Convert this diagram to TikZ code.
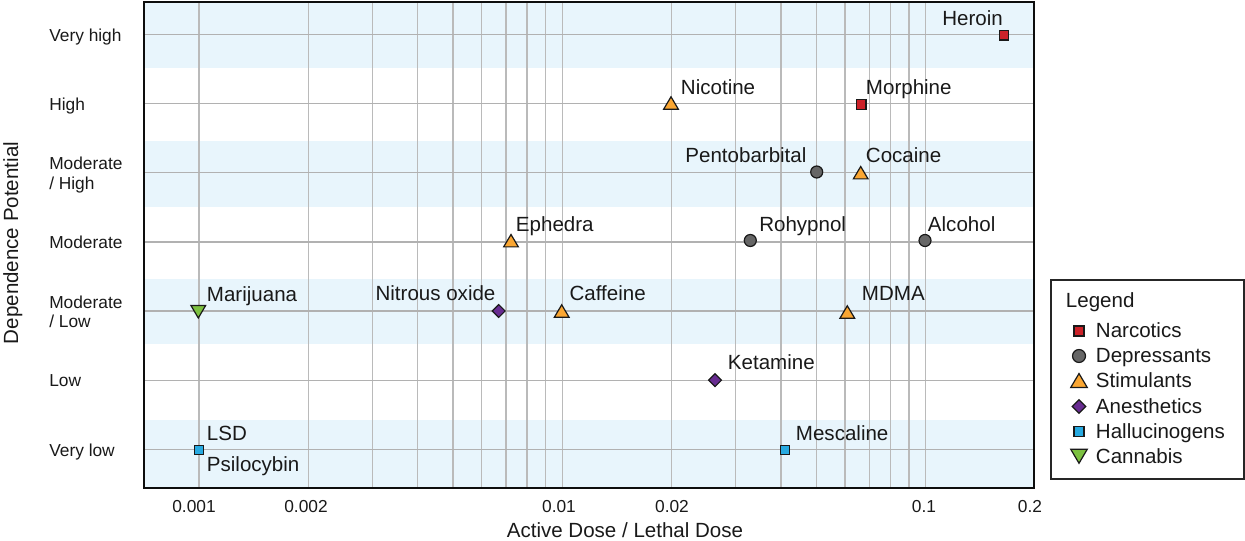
\documentclass[tikz,border=0pt]{standalone}
\usepackage{fontspec}
\setmainfont{Liberation Sans}
\definecolor{band}{RGB}{232,245,252}
\definecolor{gridc}{RGB}{186,186,186}
\definecolor{narc}{RGB}{204,34,41}
\definecolor{depr}{RGB}{102,102,102}
\definecolor{stim}{RGB}{250,166,50}
\definecolor{anes}{RGB}{104,44,145}
\definecolor{hall}{RGB}{39,170,225}
\definecolor{cann}{RGB}{124,193,64}
\tikzset{
  mk/.style={draw=black!90, line width=0.9pt, line join=miter},
  narcotic/.pic={\path[mk,fill=narc] (-4.75,-4.75) rectangle (4.75,4.75);},
  depressant/.pic={\path[mk,fill=depr] (0,0) circle[radius=6];},
  stimulant/.pic={\path[mk,fill=stim] (-7.35,6.2) -- (7.35,6.2) -- (0,-6.2) -- cycle;},
  anesthetic/.pic={\path[mk,fill=anes] (0,-6.4) -- (6.4,0) -- (0,6.4) -- (-6.4,0) -- cycle;},
  hallucinogen/.pic={\path[mk,fill=hall] (-4.75,-4.75) rectangle (4.75,4.75);},
  cannabis/.pic={\path[mk,fill=cann] (-7.35,-6) -- (7.35,-6) -- (0,6.5) -- cycle;},
  lab/.style={font=\fontsize{15.4}{18}\selectfont, inner sep=0pt, text=black!90},
  tick/.style={font=\fontsize{13}{15.6}\selectfont, inner sep=0pt, text=black!90},
  gridline/.style={draw=gridc, line width=0.95pt},
}
\begin{document}
\begin{tikzpicture}[x=0.75pt,y=-0.75pt]
\useasboundingbox (0,0) rectangle (1245,541);
% bands
\fill[band] (144,2) rectangle (1034,68.3);
\fill[band] (144,141) rectangle (1034,206.7);
\fill[band] (144,279) rectangle (1034,344.3);
\fill[band] (144,420) rectangle (1034,488);
% vertical grid
\foreach \d in {0,1} {
  \foreach \k in {1,...,9} {
    \pgfmathsetmacro\gx{199+363.3*(\d+ln(\k)/2.302585)}
    \draw[gridline] (\gx,2) -- (\gx,488);
  }
}
\draw[gridline] (925.6,2) -- (925.6,488);
% horizontal grid
\foreach \r in {34.5,103.6,172.8,241.9,311.0,380.2,449.3} {
  \draw[gridline, draw=gridc!95!black] (144,\r) -- (1034,\r);
}
% frame
\draw[line width=2.2pt, draw=black!95] (144,2) rectangle (1034,488);
% y tick labels
\node[tick, anchor=base west] (yt7) at (49,41.8) {Very high};
\node[tick, anchor=base west] (yt6) at (49,111) {High};
\node[tick, anchor=base west] (yt5a) at (49,170) {Moderate};
\node[tick, anchor=base west] (yt5b) at (49,189.3) {/ High};
\node[tick, anchor=base west] (yt4) at (49,248.5) {Moderate};
\node[tick, anchor=base west] (yt3a) at (49,308.5) {Moderate};
\node[tick, anchor=base west] (yt3b) at (49,328) {/ Low};
\node[tick, anchor=base west] (yt2) at (49,387) {Low};
\node[tick, anchor=base west] (yt1) at (49,456.5) {Very low};
% x tick labels
\node[tick, anchor=base] (xt1) at (194,512.8) {0.001};
\node[tick, anchor=base] (xt2) at (306,512.8) {0.002};
\node[tick, anchor=base] (xt3) at (559,512.8) {0.01};
\node[tick, anchor=base] (xt4) at (672,512.8) {0.02};
\node[tick, anchor=base] (xt5) at (924,512.8) {0.1};
\node[tick, anchor=base] (xt6) at (1030,512.8) {0.2};
% axis titles
\node[lab, anchor=base] (xtitle) at (625,537.5) {Active Dose / Lethal Dose};
\node[lab, anchor=base, rotate=90] (ytitle) at (18,243) {Dependence Potential};
% data markers
\pic (heroin) at (1004,35.3) {narcotic};
\pic (morphine) at (861.3,104.5) {narcotic};
\pic (nicotine) at (671,103) {stimulant};
\pic (pentobarbital) at (816.7,172) {depressant};
\pic (cocaine) at (860.7,172.7) {stimulant};
\pic (ephedra) at (511,240.7) {stimulant};
\pic (rohypnol) at (750.3,240.5) {depressant};
\pic (alcohol) at (925,240.5) {depressant};
\pic (marijuana) at (198.3,311.5) {cannabis};
\pic (nitrous) at (498.7,311) {anesthetic};
\pic (caffeine) at (561.7,311) {stimulant};
\pic (mdma) at (847.3,312) {stimulant};
\pic (ketamine) at (715,380.2) {anesthetic};
\pic (lsd) at (199,450) {hallucinogen};
\pic (mescaline) at (785,450) {hallucinogen};
% data labels
\node[lab, anchor=base east] (lHeroin) at (1003,26) {Heroin};
\node[lab, anchor=base west] (lNicotine) at (680.7,95) {Nicotine};
\node[lab, anchor=base west] (lMorphine) at (865.7,95) {Morphine};
\node[lab, anchor=base east] (lPento) at (806.7,163) {Pentobarbital};
\node[lab, anchor=base west] (lCocaine) at (865.7,163) {Cocaine};
\node[lab, anchor=base west] (lEphedra) at (515.7,231.7) {Ephedra};
\node[lab, anchor=base west] (lRohypnol) at (759,231.7) {Rohypnol};
\node[lab, anchor=base west] (lAlcohol) at (927.7,231.7) {Alcohol};
\node[lab, anchor=base west] (lMarijuana) at (206.7,301.7) {Marijuana};
\node[lab, anchor=base east] (lNitrous) at (495.7,300.7) {Nitrous oxide};
\node[lab, anchor=base west] (lCaffeine) at (569.3,300.7) {Caffeine};
\node[lab, anchor=base west] (lMDMA) at (861.7,301) {MDMA};
\node[lab, anchor=base west] (lKetamine) at (727.7,369.3) {Ketamine};
\node[lab, anchor=base west] (lLSD) at (206.7,440.7) {LSD};
\node[lab, anchor=base west] (lPsilo) at (206.7,471.7) {Psilocybin};
\node[lab, anchor=base west] (lMescaline) at (795.7,440.7) {Mescaline};
% legend
\draw[draw=black!85, line width=1.1pt, fill=white] (1051,280) rectangle (1244,479);
\node[lab, anchor=base west] (legTitle) at (1065.7,307.7) {Legend};
\pic[scale=1.05] (lgN) at (1079,331) {narcotic};
\pic[scale=1.08] (lgD) at (1079,356) {depressant};
\pic[scale=1.12] (lgS) at (1079,380.5) {stimulant};
\pic[scale=1.05] (lgA) at (1079,406.5) {anesthetic};
\pic[scale=1.05] (lgH) at (1079,431.5) {hallucinogen};
\pic[scale=1.12] (lgC) at (1079,456) {cannabis};
\node[lab, anchor=base west] (lgtN) at (1095.7,337.7) {Narcotics};
\node[lab, anchor=base west] (lgtD) at (1095.7,362.8) {Depressants};
\node[lab, anchor=base west] (lgtS) at (1095.7,387.9) {Stimulants};
\node[lab, anchor=base west] (lgtA) at (1095.7,413) {Anesthetics};
\node[lab, anchor=base west] (lgtH) at (1095.7,438.1) {Hallucinogens};
\node[lab, anchor=base west] (lgtC) at (1095.7,463.2) {Cannabis};
\end{tikzpicture}
\end{document}
